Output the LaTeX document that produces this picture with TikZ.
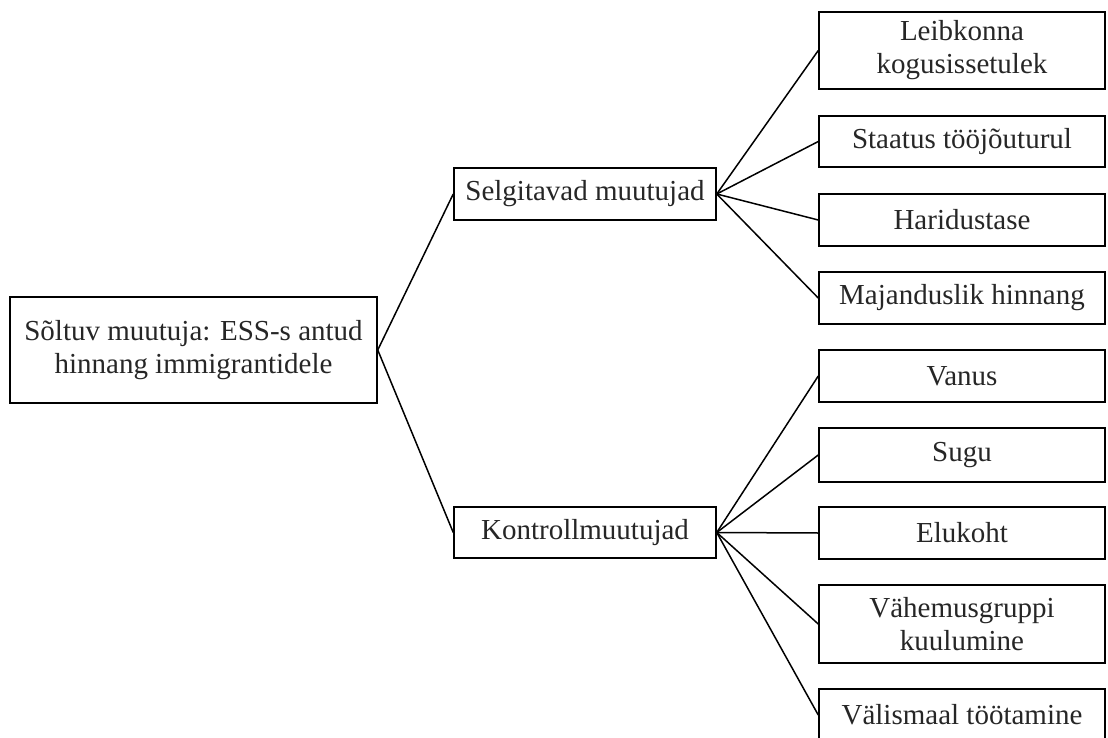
\documentclass[tikz,border=0pt]{standalone}
\usepackage{fontspec}
\setmainfont{Liberation Serif}
\begin{document}
\begin{tikzpicture}[x=1pt,y=-1pt,
  box/.style={draw=black,line width=1.5pt,inner sep=0pt,align=center,
    font=\fontsize{29}{33}\selectfont,text=black!85},
  rbox/.style={box,minimum width=286pt},
  mbox/.style={box,minimum width=262pt,minimum height=52pt},
  conn/.style={draw=black,line width=1.5pt}]
\useasboundingbox (0,0) rectangle (1108,738);
\node[box,minimum width=367pt,minimum height=106pt] (L) at (193.5,350) {Sõltuv muutuja: ESS-s antud\\hinnang immigrantidele};
\node[mbox] (S) at (585,194) {Selgitavad muutujad};
\node[mbox,minimum height=51pt] (K) at (585,532.5) {Kontrollmuutujad};
\node[rbox,minimum height=77pt] (R1) at (962,50.5) {Leibkonna\\kogusissetulek};
\node[rbox,minimum height=51pt] (R2) at (962,141.5) {Staatus tööjõuturul};
\node[rbox,minimum height=52pt] (R3) at (962,220) {Haridustase};
\node[rbox,minimum height=52pt] (R4) at (962,298) {Majanduslik hinnang};
\node[rbox,minimum height=52pt] (R5) at (962,376) {Vanus};
\node[rbox,minimum height=54pt] (R6) at (962,455) {Sugu};
\node[rbox,minimum height=52pt] (R7) at (962,533) {Elukoht};
\node[rbox,minimum height=78pt] (R8) at (962,624) {Vähemusgruppi\\kuulumine};
\node[rbox,minimum height=52pt] (R9) at (962,715) {Välismaal töötamine};
\draw[conn] (L.east) -- (S.west);
\draw[conn] (L.east) -- (K.west);
\foreach \r in {R1,R2,R3,R4} \draw[conn] (S.east) -- (\r.west);
\foreach \r in {R5,R6,R7,R8,R9} \draw[conn] (K.east) -- (\r.west);
\end{tikzpicture}
\end{document}
